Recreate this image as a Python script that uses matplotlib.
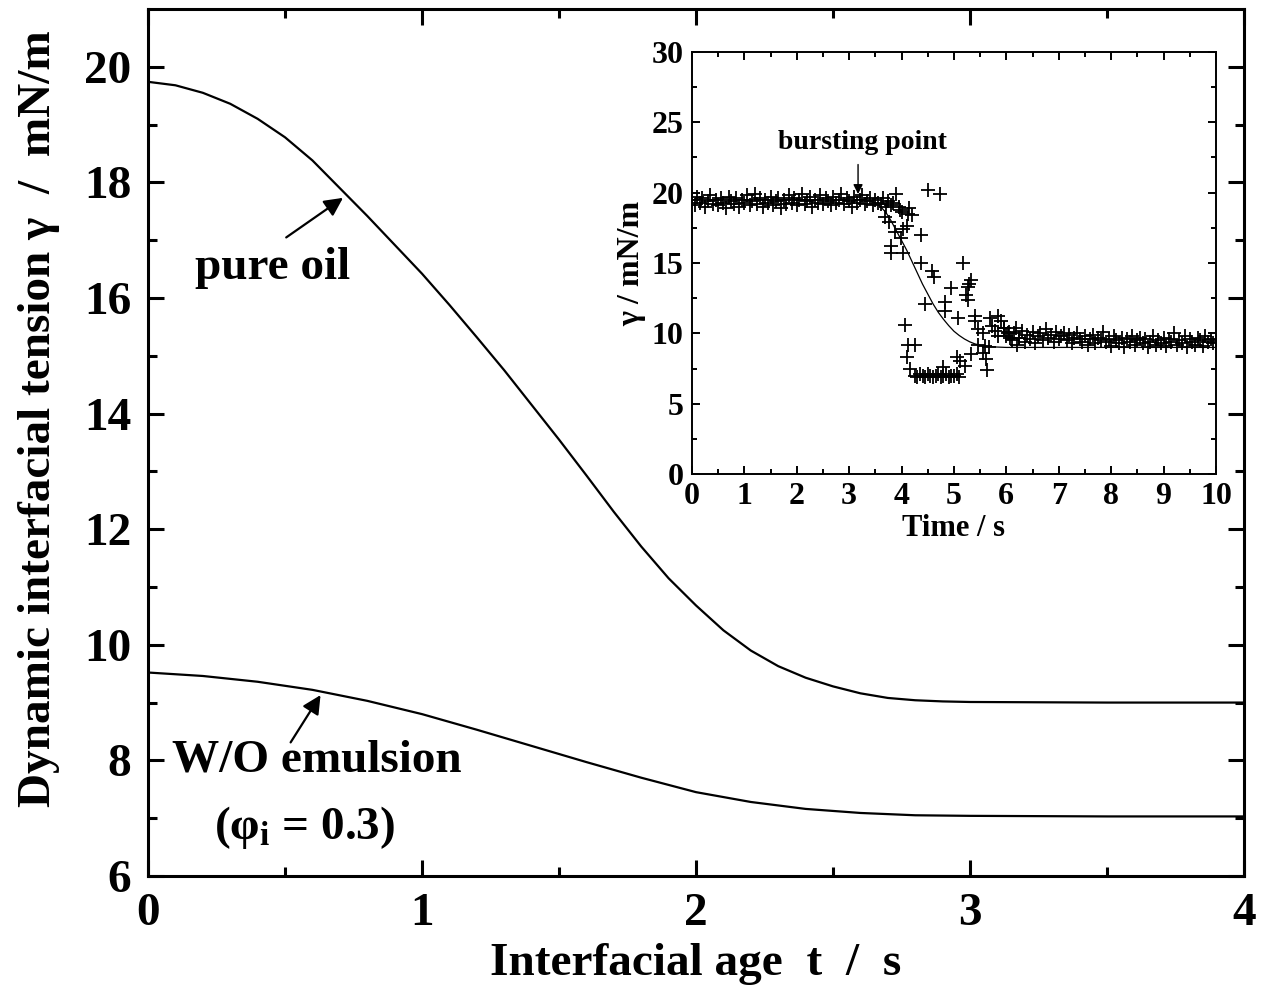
import numpy as np
import matplotlib.pyplot as plt

# ============================================================ #
# Tensão interfacial dinâmica: óleo puro x emulsão W/O.
# ============================================================ #

plt.rcParams["font.family"] = ["Liberation Serif", "DejaVu Serif"]
plt.rcParams["font.weight"] = "bold"
plt.rcParams["mathtext.fontset"] = "custom"
plt.rcParams["mathtext.rm"] = "Liberation Serif:bold"
plt.rcParams["mathtext.it"] = "Liberation Serif:italic:bold"
plt.rcParams["mathtext.bf"] = "Liberation Serif:bold"

# Curvas do gráfico principal (idade interfacial em s, tensão em mN/m)
t_oleo = [0.0, 0.1, 0.2, 0.3, 0.4, 0.5, 0.6, 0.7, 0.8, 0.9, 1.0, 1.1, 1.2,
          1.3, 1.4, 1.5, 1.6, 1.7, 1.8, 1.9, 2.0, 2.1, 2.2, 2.3, 2.4, 2.5,
          2.6, 2.7, 2.8, 2.9, 3.0, 3.5, 4.0]
gama_oleo = [19.74, 19.68, 19.55, 19.36, 19.10, 18.78, 18.38, 17.90, 17.42,
             16.92, 16.42, 15.88, 15.32, 14.75, 14.15, 13.55, 12.93, 12.30,
             11.70, 11.15, 10.68, 10.25, 9.90, 9.63, 9.43, 9.28, 9.16, 9.08,
             9.04, 9.02, 9.01, 9.00, 9.00]

t_emulsao = [0.0, 0.2, 0.4, 0.6, 0.8, 1.0, 1.2, 1.4, 1.6, 1.8, 2.0, 2.2,
             2.4, 2.6, 2.8, 3.0, 3.5, 4.0]
gama_emulsao = [9.52, 9.46, 9.36, 9.22, 9.03, 8.80, 8.53, 8.25, 7.97, 7.70,
                7.45, 7.28, 7.16, 7.09, 7.05, 7.04, 7.03, 7.03]

# Medidas do detalhe (amostragem a cada 0.05 s nos patamares)
passo_amostra = 0.05
gama_patamar_1 = [19.5, 19.1, 19.7, 19.3, 19.6, 19.0, 19.4, 19.8, 19.2, 19.5,
                  19.1, 19.6, 19.3, 18.9, 19.7, 19.4, 19.2, 19.6, 19.0, 19.5,
                  19.3, 19.8, 19.1, 19.4, 19.9, 19.2, 19.6, 19.0, 19.5, 19.3,
                  19.7, 19.1, 19.4, 19.6, 18.9, 19.5, 19.2, 19.8, 19.3, 19.6,
                  19.1, 19.5, 19.9, 19.2, 19.4, 19.7, 19.0, 19.5, 19.3, 19.8,
                  19.2, 19.6, 19.4, 19.1, 19.7, 19.3, 19.5, 19.9, 19.2, 19.6,
                  19.4, 19.0, 19.7, 19.3, 19.5, 19.8, 19.2, 19.4, 19.6, 19.1,
                  19.5, 19.3]
inicio_patamar_2 = 5.95
gama_patamar_2 = [10.4, 9.8, 10.1, 9.5, 10.0, 9.2, 9.7, 10.2, 9.4, 9.9,
                  9.6, 10.1, 9.3, 9.8, 10.0, 9.5, 10.3, 9.7, 9.9, 9.4,
                  10.1, 9.6, 9.8, 10.0, 9.5, 9.9, 9.3, 9.7, 10.0, 9.6,
                  9.4, 9.8, 9.2, 9.6, 9.9, 9.3, 9.7, 9.5, 10.1, 9.4,
                  9.6, 9.1, 9.8, 9.5, 9.3, 9.7, 9.0, 9.6, 9.4, 9.8,
                  9.2, 9.5, 9.7, 9.3, 9.6, 9.0, 9.4, 9.8, 9.2, 9.5,
                  9.3, 9.7, 9.1, 9.6, 9.4, 10.0, 9.2, 9.5, 9.3, 9.8,
                  9.0, 9.6, 9.4, 9.2, 9.7, 9.5, 9.1, 9.8, 9.4, 9.6,
                  9.3, 9.5]

# Pontos espalhados durante o rompimento das gotas
t_ruptura = [3.60, 3.65, 3.70, 3.75, 3.80, 3.84, 3.90, 3.97, 4.13, 4.20,
             3.69, 3.77, 3.88, 4.03, 4.10, 3.99, 3.80, 3.80, 4.03, 4.37,
             4.51, 4.74, 4.37, 4.59, 4.62, 4.44, 4.83, 4.83, 4.95, 5.18,
             5.07, 5.27, 5.29, 5.23, 5.27, 5.32, 5.40, 5.41, 4.06, 4.13,
             4.26, 4.11, 4.17, 4.25, 4.30, 4.35, 4.40, 4.45, 4.50, 4.55,
             4.60, 4.65, 4.70, 4.75, 4.80, 4.85, 4.90, 4.95, 5.00, 5.05,
             5.10, 4.79, 5.05, 5.12, 5.22, 5.32, 5.45, 5.45, 5.56, 5.62,
             5.63, 5.67, 5.56, 5.60, 5.68, 5.85, 5.89, 5.78, 5.73, 5.96,
             6.04, 6.07, 6.18, 6.25, 5.85, 3.95, 4.00, 4.15]
gama_ruptura = [19.2, 19.6, 19.0, 19.4, 19.1, 19.3, 19.9, 18.8, 18.5, 18.4,
                18.3, 17.9, 17.2, 17.4, 17.6, 16.8, 16.2, 15.7, 15.7, 17.0,
                20.2, 19.9, 15.0, 14.4, 14.0, 12.1, 12.2, 11.6, 13.2, 15.0,
                11.1, 13.3, 13.5, 12.7, 12.4, 13.8, 11.2, 10.9, 10.6, 9.2,
                9.2, 8.3, 7.5, 7.0, 6.9, 7.1, 7.0, 6.9, 7.1, 7.0,
                6.9, 7.0, 7.1, 6.9, 7.0, 7.1, 6.9, 7.0, 7.0, 7.1,
                6.9, 7.6, 8.3, 8.05, 7.7, 8.5, 9.2, 10.3, 8.6, 8.2,
                7.4, 9.0, 10.0, 9.1, 11.1, 11.2, 10.9, 10.2, 10.5, 10.4,
                10.0, 9.7, 10.4, 9.7, 9.8, 19.0, 18.6, 18.9]

# Ajuste contínuo do detalhe
t_ajuste = [0.0, 3.3, 3.5, 3.6, 3.7, 3.8, 3.9, 4.0, 4.1, 4.2, 4.3, 4.4, 4.5,
            4.6, 4.7, 4.8, 4.9, 5.0, 5.1, 5.2, 5.3, 5.4, 5.5, 5.6, 5.8, 6.0,
            10.0]
gama_ajuste = [19.5, 19.5, 19.3, 19.0, 18.6, 18.0, 17.3, 16.6, 15.9, 15.1,
               14.3, 13.5, 12.8, 12.1, 11.5, 11.0, 10.55, 10.15, 9.85, 9.6,
               9.4, 9.25, 9.15, 9.08, 9.03, 9.0, 9.0]

t_patamar_1 = np.arange(len(gama_patamar_1)) * passo_amostra
t_patamar_2 = inicio_patamar_2 + np.arange(len(gama_patamar_2)) * passo_amostra
t_medidas = np.concatenate([t_patamar_1, t_ruptura, t_patamar_2])
gama_medidas = np.concatenate([gama_patamar_1, gama_ruptura, gama_patamar_2])


def estilo_eixos(eixo, tamanho_maior, tamanho_menor, espessura, pad, fonte):
    """Ticks para dentro nos quatro lados, como nos gráficos de origem."""
    for lado in eixo.spines.values():
        lado.set_linewidth(espessura)
    eixo.tick_params(which="both", direction="in", top=True, right=True,
                     width=espessura, labelsize=fonte, pad=pad)
    eixo.tick_params(which="major", length=tamanho_maior)
    eixo.tick_params(which="minor", length=tamanho_menor)
    for rotulo in eixo.get_xticklabels() + eixo.get_yticklabels():
        rotulo.set_fontweight("bold")


fig = plt.figure(figsize=(12.75, 9.88), dpi=100)

# ============================================================ #
# Gráfico principal.
# ============================================================ #
ax = fig.add_axes([0.1161, 0.1134, 0.8596, 0.8775])
ax.plot(t_oleo, gama_oleo, color="black", linewidth=1.6)
ax.plot(t_emulsao, gama_emulsao, color="black", linewidth=1.6)

ax.set_xlim(0, 4)
ax.set_ylim(6, 21)
ax.set_xticks([0, 1, 2, 3, 4])
ax.set_xticks([0.5, 1.5, 2.5, 3.5], minor=True)
ax.set_yticks([6, 8, 10, 12, 14, 16, 18, 20])
ax.set_yticks([7, 9, 11, 13, 15, 17, 19], minor=True)
estilo_eixos(ax, 11.5, 6.5, 2.2, 12, 34)

ax.set_xlabel("Interfacial age  t  /  s", fontsize=34, fontweight="bold",
              labelpad=6)
ax.set_ylabel("Dynamic interfacial tension γ  /  mN/m", fontsize=34,
              fontweight="bold")
ax.yaxis.set_label_coords(-0.08, 0.527)

ax.annotate("", xy=(0.72, 17.76), xytext=(0.496, 17.02),
            arrowprops=dict(arrowstyle="-|>", color="black", lw=1.6,
                            mutation_scale=28))
ax.text(0.456, 16.52, "pure oil", fontsize=34, fontweight="bold",
        ha="center", va="center")

ax.annotate("", xy=(0.635, 9.17), xytext=(0.515, 8.27),
            arrowprops=dict(arrowstyle="-|>", color="black", lw=1.6,
                            mutation_scale=28))
ax.text(0.616, 8.0, "W/O emulsion", fontsize=34, fontweight="bold",
        ha="center", va="center")
ax.text(0.57, 6.83, r"($\mathregular{φ_i}$ = 0.3)", fontsize=34,
        fontweight="bold", ha="center", va="center")

# ============================================================ #
# Detalhe: medidas ao longo do tempo.
# ============================================================ #
axd = fig.add_axes([0.5427, 0.5202, 0.411, 0.4272])
axd.plot(t_medidas, gama_medidas, linestyle="none", marker="+",
         markersize=10.5, markeredgewidth=1.3, color="black")
axd.plot(t_ajuste, gama_ajuste, color="black", linewidth=0.9)

axd.set_xlim(0, 10)
axd.set_ylim(0, 30)
axd.set_xticks(range(0, 11))
axd.set_xticks(np.arange(0.5, 10, 1.0), minor=True)
axd.set_yticks(range(0, 31, 5))
axd.set_yticks(np.arange(2.5, 30, 5.0), minor=True)
estilo_eixos(axd, 5.5, 3.5, 1.4, 6, 23)

axd.set_xlabel("Time / s", fontsize=22, fontweight="bold", labelpad=2)
axd.set_ylabel("γ / mN/m", fontsize=23, fontweight="bold", labelpad=4)

axd.annotate("", xy=(3.17, 19.9), xytext=(3.17, 22.0),
             arrowprops=dict(arrowstyle="-|>", color="black", lw=1.0,
                             mutation_scale=14, shrinkA=0, shrinkB=0))
axd.text(3.25, 23.6, "bursting point", fontsize=20, fontweight="bold",
         ha="center", va="center")

fig.savefig("out.png", dpi=100)
plt.close(fig)
